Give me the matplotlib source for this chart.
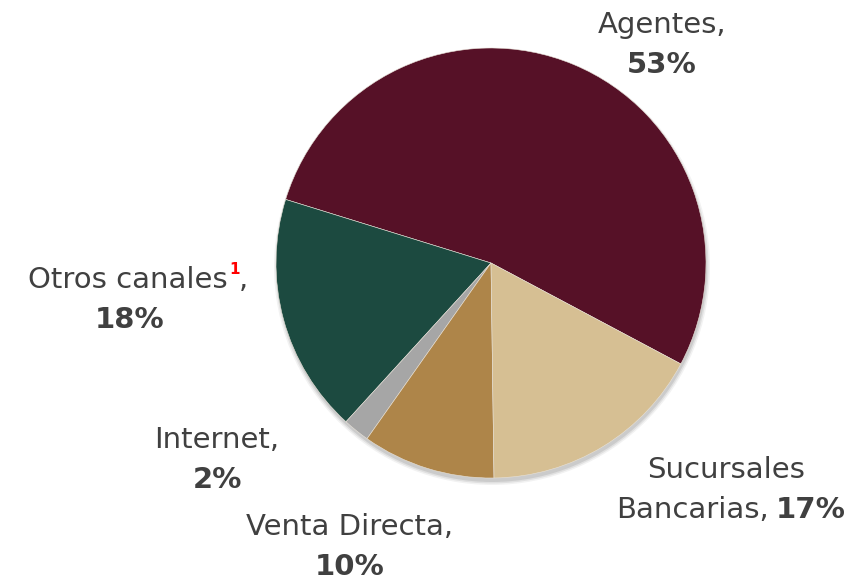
import matplotlib.pyplot as plt
from matplotlib.patches import Circle

canales = ["Agentes", "Otros canales", "Internet", "Venta Directa", "Sucursales Bancarias"]
porcentajes = [53, 18, 2, 10, 17]
colores = ["#561127", "#1C4A40", "#A6A6A6", "#AE8549", "#D6BF93"]

plt.rcParams['font.family'] = ['DejaVu Sans']
gris = "#404040"

fig = plt.figure(figsize=(8.49, 5.80), dpi=100)
ax = fig.add_axes([0, 0, 1, 1])

cx, cy, r = 491, 317, 215

# soft shadow under the pie
for i, a in enumerate([0.05, 0.07, 0.09]):
    ax.add_patch(Circle((cx + 1, cy - 4), r + 3 - i * 1.5, color="#000000", alpha=a, lw=0, zorder=0))

ax.pie(porcentajes, colors=colores, startangle=-28, counterclock=True,
       center=(cx, cy), radius=r, frame=True,
       wedgeprops=dict(linewidth=0.4, edgecolor="#e8e2d8"))
ax.set_xlim(0, 849)
ax.set_ylim(0, 580)
ax.set_aspect('equal')
ax.axis('off')

fs = 21
# Agentes
ax.text(662, 555, "Agentes,", ha='center', va='center', fontsize=fs, color=gris)
ax.text(662, 515, f"{porcentajes[0]}%", ha='center', va='center', fontsize=fs, color=gris, fontweight='bold')

# Otros canales
ax.text(228, 300, "Otros canales", ha='right', va='center', fontsize=fs, color=gris)
ax.text(229, 311, "1", ha='left', va='center', fontsize=11, color="#FF0000", fontweight='bold')
ax.text(239, 300, ",", ha='left', va='center', fontsize=fs, color=gris)
ax.text(130, 260, f"{porcentajes[1]}%", ha='center', va='center', fontsize=fs, color=gris, fontweight='bold')

# Internet
ax.text(217, 140, "Internet,", ha='center', va='center', fontsize=fs, color=gris)
ax.text(217, 100, f"{porcentajes[2]}%", ha='center', va='center', fontsize=fs, color=gris, fontweight='bold')

# Venta Directa
ax.text(350, 53, "Venta Directa,", ha='center', va='center', fontsize=fs, color=gris)
ax.text(350, 13, f"{porcentajes[3]}%", ha='center', va='center', fontsize=fs, color=gris, fontweight='bold')

# Sucursales Bancarias
ax.text(726, 110, "Sucursales", ha='center', va='center', fontsize=fs, color=gris)
ax.text(769, 70, "Bancarias,", ha='right', va='center', fontsize=fs, color=gris)
ax.text(776, 70, f"{porcentajes[4]}%", ha='left', va='center', fontsize=fs, color=gris, fontweight='bold')

plt.savefig("out.png", dpi=100)
